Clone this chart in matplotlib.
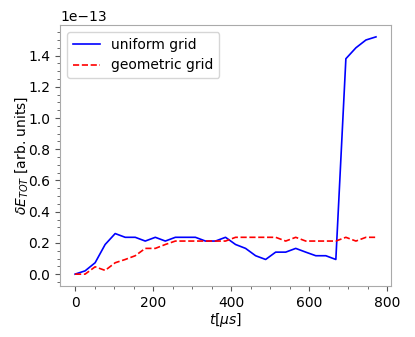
import matplotlib
matplotlib.use('Agg')
import matplotlib.pyplot as plt
from matplotlib.ticker import AutoMinorLocator

# time axis [us]
t = [0.0, 25.7, 51.4, 77.1, 102.8, 128.5, 154.2, 179.9, 205.6, 231.3, 257.0,
     282.7, 308.4, 334.1, 359.8, 385.5, 411.2, 436.9, 462.6, 488.3, 514.0,
     539.7, 565.4, 591.1, 616.8, 642.5, 668.2, 693.9, 719.6, 745.3, 771.0]

# energy error, units of 1e-13
uniform = [0.0, 0.021, 0.073, 0.19, 0.26, 0.236, 0.236, 0.212, 0.236, 0.212, 0.236,
           0.236, 0.236, 0.212, 0.212, 0.236, 0.19, 0.165, 0.118, 0.094, 0.141,
           0.141, 0.165, 0.141, 0.118, 0.118, 0.094, 1.38, 1.45, 1.50, 1.52]
geometric = [0.0, 0.0, 0.047, 0.024, 0.073, 0.094, 0.118, 0.165, 0.165, 0.19, 0.212,
             0.212, 0.212, 0.212, 0.212, 0.212, 0.236, 0.236, 0.236, 0.236, 0.236,
             0.212, 0.236, 0.212, 0.212, 0.212, 0.212, 0.236, 0.212, 0.236, 0.236]

scale = 1e-13

fig = plt.figure(figsize=(4.15, 3.37), dpi=100)
ax = fig.add_axes([0.1446, 0.1513, 0.7976, 0.7745])

ax.plot(t, [v * scale for v in uniform], 'b-', lw=1.2, label='uniform grid')
ax.plot(t, [v * scale for v in geometric], 'r--', lw=1.2, label='geometric grid')

ax.set_xlabel(r'$t[\mu s]$', labelpad=1)
ax.set_ylabel(r'$\delta E_{TOT}$ [arb. units]', labelpad=-1)
ax.set_xticks([0, 200, 400, 600, 800])
ax.set_ylim(-0.076e-13, 1.596e-13)
ax.xaxis.set_minor_locator(AutoMinorLocator())
ax.yaxis.set_minor_locator(AutoMinorLocator())

for s in ax.spines.values():
    s.set_color('#aaaaaa')
ax.tick_params(which='both', color='#555555')

ax.legend(loc='upper left')

plt.savefig('out.png', dpi=100)
